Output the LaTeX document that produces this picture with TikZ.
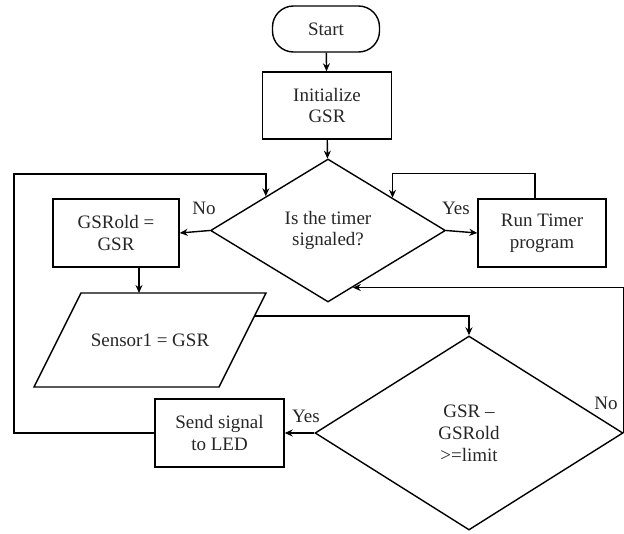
\documentclass[tikz,border=0pt]{standalone}
\usepackage{fontspec}
\setmainfont{Liberation Serif}
\usetikzlibrary{shapes.geometric,arrows.meta,calc}
\begin{document}
\begin{tikzpicture}[x=1pt,y=-1pt,
  every node/.style={font=\fontsize{19}{21.8}\selectfont, text=black!85},
  box/.style={draw, line width=1.4pt, rectangle, align=center, inner sep=0pt},
  term/.style={draw, line width=1.4pt, rectangle, rounded corners=21pt, inner sep=0pt},
  dec/.style={draw, line width=1.4pt, diamond, align=center, inner sep=0pt, aspect=1.6},
  shp/.style={draw, line width=1.4pt, line join=miter},
  conn/.style={line width=1.4pt, -{Stealth[length=8pt,width=7pt]}},
  lbl/.style={inner sep=0pt}
]
\useasboundingbox (0,0) rectangle (624,533);
\node[term, minimum width=107pt, minimum height=46pt] (start) at (326,29) {Start};
\node[box, minimum width=129pt, minimum height=67pt] (init) at (327,105.5) {Initialize\\GSR};
\node[dec, minimum width=235pt, minimum height=143pt] (d1) at (328,230.5) {Is the timer\\signaled?};
\node[box, minimum width=126pt, minimum height=68pt] (old) at (116,233) {GSRold =\\GSR};
\node[box, minimum width=128pt, minimum height=68pt] (run) at (542,233) {Run Timer\\program};
\draw[shp] (34,387) coordinate (pbl) -- (81,293) coordinate (ptl) -- (266,293) coordinate (ptr) -- (219,387) coordinate (pbr) -- cycle;
\node[inner sep=0pt] (sensor) at (150,340) {Sensor1 = GSR};
\node[dec, minimum width=308pt, minimum height=194pt] (d2) at (469,433) {GSR –\\GSRold\\>=limit};
\node[box, minimum width=129pt, minimum height=68pt] (send) at (219.5,433) {Send signal\\to LED};

\node[lbl] (no1) at (204,208) {No};
\node[lbl] (yes1) at (456,208) {Yes};
\node[lbl] (yes2) at (306,416) {Yes};
\node[lbl] (no2) at (606,403) {No};

\coordinate (lt) at ($(d1.north)!0.526!(d1.west)$);
\coordinate (rt) at ($(d1.north)!0.546!(d1.east)$);
\coordinate (rb) at ($(d1.east)!0.79!(d1.south)$);
\coordinate (sr) at ($(ptr)!0.245!(pbr)$);
\coordinate (runtop) at ($(run.north)+(-7,0)$);
\coordinate (ptop) at (139,293);

\draw[conn] (start) -- (init);
\draw[conn] (init) -- (d1);
\draw[conn] (d1.west) -- (old.east);
\draw[conn] (d1.east) -- (run.west);
\draw[conn] (runtop) -- ++(0,-25) -| (rt);
\draw[conn] (old.south -| ptop) -- (ptop);
\draw[conn] (sr) -| (d2.north);
\draw[conn] (d2.west) -- (send.east);
\draw[conn] (send.west) -- (14,433) -- (14,174) -| (lt);
\draw[conn] (d2.east) -- (d2.east |- rb) -- (rb);
\end{tikzpicture}
\end{document}
